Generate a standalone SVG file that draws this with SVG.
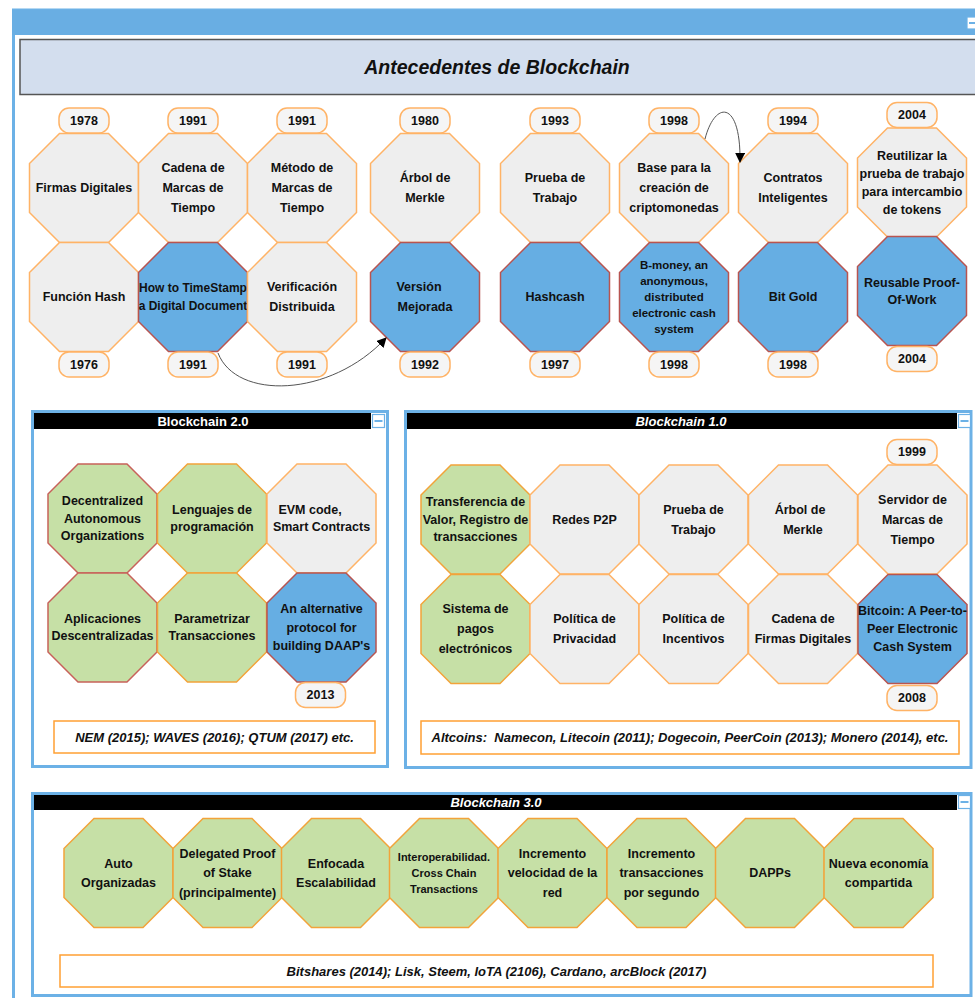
<svg xmlns="http://www.w3.org/2000/svg" xmlns:xlink="http://www.w3.org/1999/xlink" width="975" height="998" viewBox="0 0 975 998">
<style>
text{font-family:"Liberation Sans",Arial,sans-serif;font-weight:bold;fill:#111111;text-anchor:middle;dominant-baseline:central}
.t{font-size:12.5px}
.t12{font-size:12px}
.s{font-size:11.5px}
.s2{font-size:11px}
.yr{font-size:12.5px}
.grey{fill:#EEEEEE;stroke:#FFB366;stroke-width:1.5}
.blue{fill:#66AEE3;stroke:#B85450;stroke-width:1.5}
.green{fill:#C6E0A6;stroke:#F2A33A;stroke-width:1.5}
.greenr{fill:#C6E0A6;stroke:#C8615A;stroke-width:1.5}
.lbl{fill:#F5F5F5;stroke:#FFB366;stroke-width:1.5}
.frame{fill:#FFFFFF;stroke:#6CB1E6;stroke-width:3}
.bar{fill:#000000}
.bt{font-size:13px;fill:#FFFFFF}
.it{font-style:italic}
.foot{fill:#FFFFFF;stroke:#FFA033;stroke-width:1.5}
.ft{font-size:13px;font-style:italic;white-space:pre}
.mbox{fill:#FFFFFF;stroke:#6CB1E6;stroke-width:1.2}
.mline{stroke:#6CB1E6;stroke-width:2}
.conn{fill:none;stroke:#555555;stroke-width:1}
</style>
<defs>
<polygon id="oct" points="-24.5,-54.5 24.5,-54.5 54.5,-24.5 54.5,24.5 24.5,54.5 -24.5,54.5 -54.5,24.5 -54.5,-24.5"/>
<rect id="yr" x="-25" y="-12.5" width="50" height="25" rx="10" ry="10"/>
<marker id="arr" viewBox="0 0 10 10" refX="9" refY="5" markerWidth="10" markerHeight="10" markerUnits="userSpaceOnUse" orient="auto">
<path d="M0,0 L10,5 L0,10 z" fill="#000000"/>
</marker>
</defs>
<rect x="0" y="0" width="975" height="998" fill="#FFFFFF"/>
<!-- main container -->
<g id="main">
<rect x="13.5" y="10" width="975" height="1000" fill="#FFFFFF" stroke="#6CB1E6" stroke-width="3"/>
<rect x="12" y="10" width="975" height="25" fill="#69AEE3"/>
<rect x="967" y="17" width="14" height="12" class="mbox"/>
<line x1="969" y1="23" x2="980" y2="23" class="mline"/>
</g>
<g id="title">
<rect x="20" y="39.5" width="970" height="55" fill="#D3DEEE" stroke="#555555" stroke-width="1.5"/>
<text x="497" y="67" style="font-size:19.5px;font-style:italic">Antecedentes de Blockchain</text>
</g>
<!-- top row 1 -->
<g id="n1"><use xlink:href="#oct" x="84" y="188" class="grey"/><text class="t" x="84" y="188">Firmas Digitales</text></g>
<g id="n2"><use xlink:href="#oct" x="193" y="188" class="grey"/><text class="t"><tspan x="193" y="168">Cadena de</tspan><tspan x="193" y="188">Marcas de</tspan><tspan x="193" y="208">Tiempo</tspan></text></g>
<g id="n3"><use xlink:href="#oct" x="302" y="188" class="grey"/><text class="t"><tspan x="302" y="168">Método de</tspan><tspan x="302" y="188">Marcas de</tspan><tspan x="302" y="208">Tiempo</tspan></text></g>
<g id="n4"><use xlink:href="#oct" x="425" y="188" class="grey"/><text class="t"><tspan x="425" y="178">Árbol de</tspan><tspan x="425" y="198">Merkle</tspan></text></g>
<g id="n5"><use xlink:href="#oct" x="555" y="188" class="grey"/><text class="t"><tspan x="555" y="178">Prueba de</tspan><tspan x="555" y="198">Trabajo</tspan></text></g>
<g id="n6"><use xlink:href="#oct" x="674" y="188" class="grey"/><text class="t"><tspan x="674" y="168">Base para la</tspan><tspan x="674" y="188">creación de</tspan><tspan x="674" y="208">criptomonedas</tspan></text></g>
<g id="n7"><use xlink:href="#oct" x="793" y="188" class="grey"/><text class="t"><tspan x="793" y="178">Contratos</tspan><tspan x="793" y="198">Inteligentes</tspan></text></g>
<g id="n8"><use xlink:href="#oct" x="912" y="182.5" class="grey"/><text class="t"><tspan x="912" y="155.5">Reutilizar la</tspan><tspan x="912" y="173.5">prueba de trabajo</tspan><tspan x="912" y="191.5">para intercambio</tspan><tspan x="912" y="209.5">de tokens</tspan></text></g>
<!-- top row 2 -->
<g id="m1"><use xlink:href="#oct" x="84" y="297" class="grey"/><text class="t" x="84" y="297">Función Hash</text></g>
<g id="m2"><use xlink:href="#oct" x="193" y="297" class="blue"/><text class="t12"><tspan x="193" y="288">How to TimeStamp</tspan><tspan x="193" y="306">a Digital Document</tspan></text></g>
<g id="m3"><use xlink:href="#oct" x="302" y="297" class="grey"/><text class="t"><tspan x="302" y="287">Verificación</tspan><tspan x="302" y="307">Distribuida</tspan></text></g>
<g id="m4"><use xlink:href="#oct" x="425" y="297" class="blue"/><text class="t"><tspan x="419" y="287">Versión</tspan><tspan x="425" y="307">Mejorada</tspan></text></g>
<g id="m5"><use xlink:href="#oct" x="555" y="297" class="blue"/><text class="t" x="555" y="297">Hashcash</text></g>
<g id="m6"><use xlink:href="#oct" x="674" y="297" class="blue"/><text class="s"><tspan x="674" y="264.6">B-money, an</tspan><tspan x="674" y="280.8">anonymous,</tspan><tspan x="674" y="297">distributed</tspan><tspan x="674" y="313.2">electronic cash</tspan><tspan x="674" y="329.4">system</tspan></text></g>
<g id="m7"><use xlink:href="#oct" x="793" y="297" class="blue"/><text class="t" x="793" y="297">Bit Gold</text></g>
<g id="m8"><use xlink:href="#oct" x="912" y="291" class="blue"/><text class="t"><tspan x="912" y="282.5">Reusable Proof-</tspan><tspan x="912" y="299.5">Of-Work</tspan></text></g>
<!-- year labels -->
<g id="y1"><use xlink:href="#yr" x="84" y="120.5" class="lbl"/><text class="yr" x="84" y="120.5">1978</text></g>
<g id="y2"><use xlink:href="#yr" x="193" y="120.5" class="lbl"/><text class="yr" x="193" y="120.5">1991</text></g>
<g id="y3"><use xlink:href="#yr" x="302" y="120.5" class="lbl"/><text class="yr" x="302" y="120.5">1991</text></g>
<g id="y4"><use xlink:href="#yr" x="425" y="120.5" class="lbl"/><text class="yr" x="425" y="120.5">1980</text></g>
<g id="y5"><use xlink:href="#yr" x="555" y="120.5" class="lbl"/><text class="yr" x="555" y="120.5">1993</text></g>
<g id="y6"><use xlink:href="#yr" x="674" y="120.5" class="lbl"/><text class="yr" x="674" y="120.5">1998</text></g>
<g id="y7"><use xlink:href="#yr" x="793" y="120.5" class="lbl"/><text class="yr" x="793" y="120.5">1994</text></g>
<g id="y8"><use xlink:href="#yr" x="912" y="115" class="lbl"/><text class="yr" x="912" y="115">2004</text></g>
<g id="z1"><use xlink:href="#yr" x="84" y="364.5" class="lbl"/><text class="yr" x="84" y="364.5">1976</text></g>
<g id="z2"><use xlink:href="#yr" x="193" y="364.5" class="lbl"/><text class="yr" x="193" y="364.5">1991</text></g>
<g id="z3"><use xlink:href="#yr" x="302" y="364.5" class="lbl"/><text class="yr" x="302" y="364.5">1991</text></g>
<g id="z4"><use xlink:href="#yr" x="425" y="364.5" class="lbl"/><text class="yr" x="425" y="364.5">1992</text></g>
<g id="z5"><use xlink:href="#yr" x="555" y="364.5" class="lbl"/><text class="yr" x="555" y="364.5">1997</text></g>
<g id="z6"><use xlink:href="#yr" x="674" y="364.5" class="lbl"/><text class="yr" x="674" y="364.5">1998</text></g>
<g id="z7"><use xlink:href="#yr" x="793" y="364.5" class="lbl"/><text class="yr" x="793" y="364.5">1998</text></g>
<g id="z8"><use xlink:href="#yr" x="912" y="359" class="lbl"/><text class="yr" x="912" y="359">2004</text></g>
<!-- connectors -->
<g id="connectors">
<path class="conn" d="M218,353 C236,400 330,398 386,338" marker-end="url(#arr)"/>
<path class="conn" d="M705,139 C715,100 741,100 740,162" marker-end="url(#arr)"/>
</g>
<!-- Blockchain 2.0 -->
<g id="bc2">
<rect x="32.5" y="411.5" width="355" height="355" class="frame"/>
<rect x="34" y="413" width="337" height="16" class="bar"/>
<rect x="372.5" y="414.5" width="12" height="13" class="mbox"/>
<line x1="374.5" y1="421" x2="382.5" y2="421" class="mline"/>
<text class="bt" x="203" y="421.5">Blockchain 2.0</text>
</g>
<g id="b2n1"><use xlink:href="#oct" x="102.5" y="518.5" class="greenr"/><text class="t"><tspan x="102.5" y="501">Decentralized</tspan><tspan x="102.5" y="518.5">Autonomous</tspan><tspan x="102.5" y="536">Organizations</tspan></text></g>
<g id="b2n2"><use xlink:href="#oct" x="212" y="518.5" class="green"/><text class="t"><tspan x="212" y="509.75">Lenguajes de</tspan><tspan x="212" y="527.25">programación</tspan></text></g>
<g id="b2n3"><use xlink:href="#oct" x="321.5" y="518.5" class="grey"/><text class="t"><tspan x="310" y="509.75">EVM code,</tspan><tspan x="321.5" y="527.25">Smart Contracts</tspan></text></g>
<g id="b2n4"><use xlink:href="#oct" x="102.5" y="627.5" class="greenr"/><text class="t"><tspan x="102.5" y="619">Aplicaciones</tspan><tspan x="102.5" y="636">Descentralizadas</tspan></text></g>
<g id="b2n5"><use xlink:href="#oct" x="212" y="627.5" class="green"/><text class="t"><tspan x="212" y="619">Parametrizar</tspan><tspan x="212" y="636">Transacciones</tspan></text></g>
<g id="b2n6"><use xlink:href="#oct" x="321.5" y="627.5" class="blue"/><text class="t"><tspan x="321.5" y="609">An alternative</tspan><tspan x="321.5" y="627.5">protocol for</tspan><tspan x="321.5" y="646">building DAAP's</tspan></text></g>
<g id="b2y"><use xlink:href="#yr" x="320.5" y="695" class="lbl"/><text class="yr" x="320.5" y="695">2013</text></g>
<g id="b2f"><rect x="54" y="721" width="321" height="32" class="foot"/><text class="ft" x="214.5" y="737">NEM (2015); WAVES (2016); QTUM (2017) etc.</text></g>
<!-- Blockchain 1.0 -->
<g id="bc1">
<rect x="405.5" y="411.5" width="565.5" height="356" class="frame"/>
<rect x="407" y="413" width="550" height="16" class="bar"/>
<rect x="958.5" y="414.5" width="12" height="13" class="mbox"/>
<line x1="960.5" y1="421" x2="968.5" y2="421" class="mline"/>
<text class="bt it" x="681" y="421.5">Blockchain 1.0</text>
</g>
<g id="b1n1"><use xlink:href="#oct" x="475.5" y="519.5" class="green"/><text class="t"><tspan x="475.5" y="502">Transferencia de</tspan><tspan x="475.5" y="519.5">Valor, Registro de</tspan><tspan x="475.5" y="537">transacciones</tspan></text></g>
<g id="b1n2"><use xlink:href="#oct" x="584.5" y="519.5" class="grey"/><text class="t" x="584.5" y="519.5">Redes P2P</text></g>
<g id="b1n3"><use xlink:href="#oct" x="693.5" y="519.5" class="grey"/><text class="t"><tspan x="693.5" y="509.5">Prueba de</tspan><tspan x="693.5" y="529.5">Trabajo</tspan></text></g>
<g id="b1n4"><use xlink:href="#oct" x="803" y="519.5" class="grey"/><text class="t"><tspan x="800" y="509.5">Árbol de</tspan><tspan x="803" y="529.5">Merkle</tspan></text></g>
<g id="b1n5"><use xlink:href="#oct" x="912.5" y="519.5" class="grey"/><text class="t"><tspan x="912.5" y="499.5">Servidor de</tspan><tspan x="912.5" y="519.5">Marcas de</tspan><tspan x="912.5" y="539.5">Tiempo</tspan></text></g>
<g id="b1n6"><use xlink:href="#oct" x="475.5" y="629" class="green"/><text class="t"><tspan x="475.5" y="609">Sistema de</tspan><tspan x="475.5" y="629">pagos</tspan><tspan x="475.5" y="649">electrónicos</tspan></text></g>
<g id="b1n7"><use xlink:href="#oct" x="584.5" y="629" class="grey"/><text class="t"><tspan x="584.5" y="619">Política de</tspan><tspan x="584.5" y="639">Privacidad</tspan></text></g>
<g id="b1n8"><use xlink:href="#oct" x="693.5" y="629" class="grey"/><text class="t"><tspan x="693.5" y="619">Política de</tspan><tspan x="693.5" y="639">Incentivos</tspan></text></g>
<g id="b1n9"><use xlink:href="#oct" x="803" y="629" class="grey"/><text class="t"><tspan x="803" y="619">Cadena de</tspan><tspan x="803" y="639">Firmas Digitales</tspan></text></g>
<g id="b1n10"><use xlink:href="#oct" x="912.5" y="629" class="blue"/><text class="t"><tspan x="912.5" y="611">Bitcoin: A Peer-to-</tspan><tspan x="912.5" y="629">Peer Electronic</tspan><tspan x="912.5" y="647">Cash System</tspan></text></g>
<g id="b1y1"><use xlink:href="#yr" x="912" y="452" class="lbl"/><text class="yr" x="912" y="452">1999</text></g>
<g id="b1y2"><use xlink:href="#yr" x="912" y="698" class="lbl"/><text class="yr" x="912" y="698">2008</text></g>
<g id="b1f"><rect x="421" y="721" width="538" height="33" class="foot"/><text class="ft" x="690" y="737.5">Altcoins:  Namecon, Litecoin (2011); Dogecoin, PeerCoin (2013); Monero (2014), etc.</text></g>
<!-- Blockchain 3.0 -->
<g id="bc3">
<rect x="32.5" y="793.5" width="938.5" height="202" class="frame"/>
<rect x="34" y="795" width="923" height="15" class="bar"/>
<rect x="958.5" y="795.5" width="12" height="13" class="mbox"/>
<line x1="960.5" y1="802" x2="968.5" y2="802" class="mline"/>
<text class="bt it" x="496" y="802.5">Blockchain 3.0</text>
</g>
<g id="b3n1"><use xlink:href="#oct" x="118.5" y="873" class="green"/><text class="t"><tspan x="118.5" y="863.5">Auto</tspan><tspan x="118.5" y="883">Organizadas</tspan></text></g>
<g id="b3n2"><use xlink:href="#oct" x="227.5" y="873" class="green"/><text class="t"><tspan x="227.5" y="853.5">Delegated Proof</tspan><tspan x="227.5" y="873">of Stake</tspan><tspan x="227.5" y="892.5">(principalmente)</tspan></text></g>
<g id="b3n3"><use xlink:href="#oct" x="336" y="873" class="green"/><text class="t"><tspan x="336" y="863.5">Enfocada</tspan><tspan x="336" y="883">Escalabilidad</tspan></text></g>
<g id="b3n4"><use xlink:href="#oct" x="444" y="873" class="green"/><text class="s2"><tspan x="444" y="857">Interoperabilidad.</tspan><tspan x="444" y="873">Cross Chain</tspan><tspan x="444" y="889">Transactions</tspan></text></g>
<g id="b3n5"><use xlink:href="#oct" x="552.5" y="873" class="green"/><text class="t"><tspan x="552.5" y="853.5">Incremento</tspan><tspan x="552.5" y="873">velocidad de la</tspan><tspan x="552.5" y="892.5">red</tspan></text></g>
<g id="b3n6"><use xlink:href="#oct" x="661.5" y="873" class="green"/><text class="t"><tspan x="661.5" y="853.5">Incremento</tspan><tspan x="661.5" y="873">transacciones</tspan><tspan x="661.5" y="892.5">por segundo</tspan></text></g>
<g id="b3n7"><use xlink:href="#oct" x="770" y="873" class="green"/><text class="t" x="770" y="873">DAPPs</text></g>
<g id="b3n8"><use xlink:href="#oct" x="878.5" y="873" class="green"/><text class="t"><tspan x="878.5" y="863.5">Nueva economía</tspan><tspan x="878.5" y="883">compartida</tspan></text></g>
<g id="b3f"><rect x="60" y="955" width="873" height="32" class="foot"/><text class="ft" x="496.5" y="971">Bitshares (2014); Lisk, Steem, IoTA (2106), Cardano, arcBlock (2017)</text></g>
</svg>
